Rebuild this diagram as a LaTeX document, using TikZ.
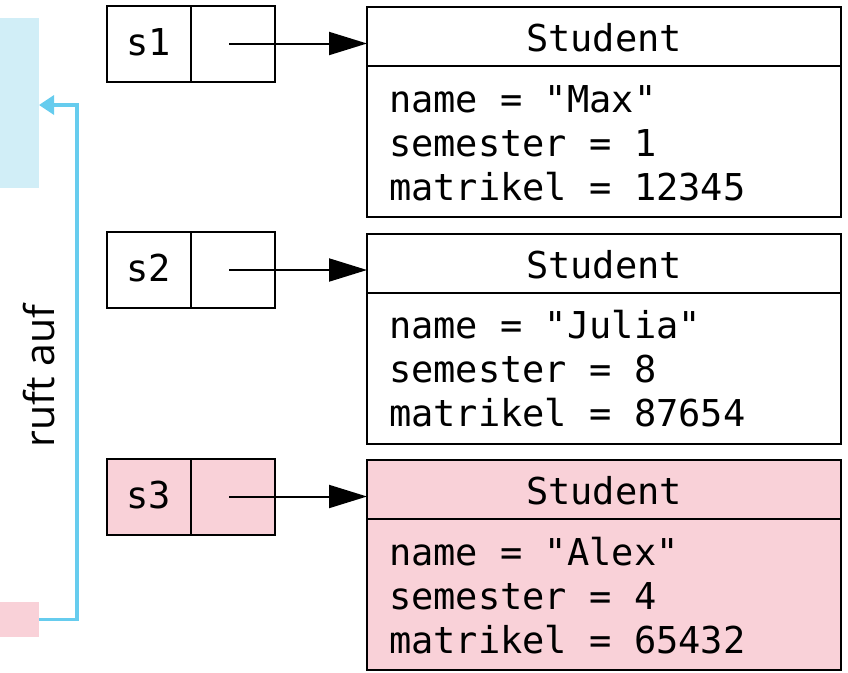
\documentclass[tikz,border=0pt]{standalone}
\usepackage{fontspec}
\setmonofont{DejaVu Sans Mono}
\newfontfamily\labelfont{Open Sans}
\usetikzlibrary{arrows.meta}
\definecolor{callblue}{HTML}{66CCEE}
\definecolor{framebg}{HTML}{D1EEF7}
\definecolor{hilite}{HTML}{F9D1D8}
\begin{document}
\begin{tikzpicture}[x=1pt,y=-1pt,
  box/.style={draw=black, line width=2pt, inner sep=0pt, outer sep=0pt, anchor=north west},
  refcell/.style={box, minimum width=84pt, minimum height=76pt},
  header/.style={box, minimum width=474pt, minimum height=59pt},
  body/.style={box, minimum width=474pt, minimum height=151pt},
  code/.style={font=\ttfamily\fontsize{37}{44}\selectfont, inner sep=0pt, outer sep=0pt},
  ref/.style={draw=black, line width=2pt, -{Triangle[length=38pt,width=23pt]}},
  calls/.style={draw=callblue, line width=3.5pt, -{Triangle[length=15pt,width=19pt]}},
  area/.style={inner sep=0pt, outer sep=0pt, anchor=north west}]
\useasboundingbox (0,0) rectangle (848,672);

% calling frames on the left
\node[area, fill=framebg, minimum width=39pt, minimum height=170pt] (frame) at (0,18) {};
\node[area, fill=hilite, minimum width=39pt, minimum height=35pt] (caller) at (0,602) {};

% reference variables and the objects they point to
\foreach \T/\var/\nm/\sem/\mat/\bg in {
    7/s1/Max/1/12345/white,
    233.5/s2/Julia/8/87654/white,
    460/s3/Alex/4/65432/hilite} {
  \node[refcell, fill=\bg] (\var-l) at (107,\T-1.5) {};
  \node[refcell, fill=\bg] (\var-r) at (191,\T-1.5) {};
  \node[code, anchor=base] (\var-name) at (149,\T+48) {\var};
  \node[header, fill=\bg] (\var-head) at (367,\T) {};
  \node[body, fill=\bg] (\var-body) at (367,\T+59) {};
  \node[code, anchor=base] (\var-cls) at (604,\T+44.5) {Student};
  \node[code, anchor=base west] (\var-f1) at (389,\T+105) {name = "\nm"};
  \node[code, anchor=base west] (\var-f2) at (389,\T+149) {semester = \sem};
  \node[code, anchor=base west] (\var-f3) at (389,\T+193) {matrikel = \mat};
  \coordinate (\var-src) at ([xshift=-4pt]\var-r.center);
  \draw[ref] (\var-src) -- (\var-src -| \var-head.west);
}

% call relation
\coordinate (turn) at (77,105);
\draw[calls] (caller.east) -| (turn) -- (turn -| frame.east);
\node[font=\labelfont\fontsize{41}{41}\selectfont, rotate=90, anchor=base, inner sep=0pt] (calllabel) at (54,376) {ruft auf};
\end{tikzpicture}
\end{document}
